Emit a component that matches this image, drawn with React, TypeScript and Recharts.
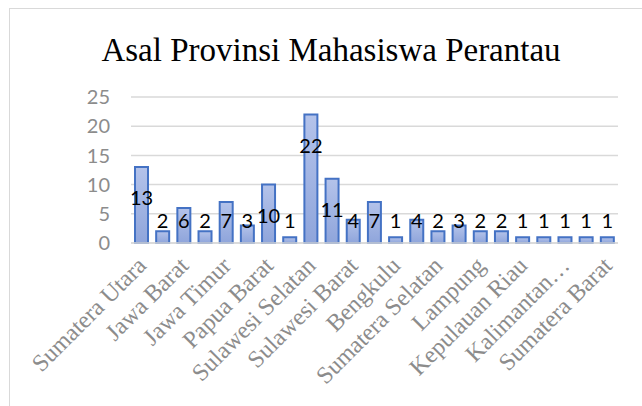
import React from 'react'
import { BarChart, Bar, CartesianGrid, XAxis, YAxis, LabelList } from 'recharts'

// provinsi asal (hanya label genap yang tampil di sumbu)
const provinsi = [
  'Sumatera Utara', 'Jawa Tengah', 'Jawa Barat', 'DKI Jakarta', 'Jawa Timur', 'Bali',
  'Papua Barat', 'Papua', 'Sulawesi Selatan', 'Sulawesi Tengah', 'Sulawesi Barat',
  'Sulawesi Tenggara', 'Bengkulu', 'Jambi', 'Sumatera Selatan', 'Riau', 'Lampung',
  'Banten', 'Kepulauan Riau', 'Kalimantan Barat', 'Kalimantan…', 'Maluku', 'Sumatera Barat',
]
const jumlah = [13, 2, 6, 2, 7, 3, 10, 1, 22, 11, 4, 7, 1, 4, 2, 3, 2, 2, 1, 1, 1, 1, 1]
const yTicks = [0, 5, 10, 15, 20, 25]
const judul = 'Asal Provinsi Mahasiswa Perantau'

const data = provinsi.map((name, i) => ({ name, value: jumlah[i] }))

const serif = "Liberation Serif"

const BarLabel = (props: any) => {
  const { x, y, width, height, value } = props
  const cy = Math.min(y + 30, y + height - 23)
  return (
    <text x={x + width / 2} y={cy} textAnchor="middle" dominantBaseline="central"
      fontFamily="Lato" fontSize={20} fill="#000">
      {value}
    </text>
  )
}

const XTick = (props: any) => {
  const { x, y, payload } = props
  return (
    <g transform={`translate(${x + 6},${y + 16})`}>
      <text x={0} y={0} textAnchor="end" transform="rotate(-45)" fontFamily={serif}
        fontSize={24} fill="#8c8c8c">
        {payload.value}
      </text>
    </g>
  )
}

export default function App() {
  return (
    <div style={{ position: 'absolute', left: 0, top: 0, width: 642, height: 406, background: '#fff', overflow: 'hidden' }}>
      <div style={{ position: 'absolute', left: 9, top: 8, width: 700, height: 500, borderLeft: '1.5px solid #d9d9d9', borderTop: '1.5px solid #d9d9d9' }} />
      <svg width={642} height={80} style={{ position: 'absolute', left: 0, top: 0 }}>
        <text x={331} y={61} textAnchor="middle" fontFamily={serif} fontSize={33} fill="#000">{judul}</text>
      </svg>
      <BarChart width={642} height={406} data={data} margin={{ top: 97, right: 24, bottom: 13, left: 0 }}
        barSize={13} style={{ position: 'absolute', left: 0, top: 0 }}>
        <defs>
          <linearGradient id="isi" x1="0" y1="0" x2="0" y2="1">
            <stop offset="0%" stopColor="#b4c3ea" />
            <stop offset="100%" stopColor="#8fa5db" />
          </linearGradient>
        </defs>
        <CartesianGrid vertical={false} stroke="#d9d9d9" strokeWidth={1.5} />
        <XAxis dataKey="name" interval={1} height={150} tickLine={false} axisLine={{ stroke: '#d9d9d9', strokeWidth: 1.5 }}
          tick={<XTick />} />
        <YAxis domain={[0, 25]} ticks={yTicks} width={131} axisLine={false} tickLine={false} tickSize={0}
          tickMargin={21} tick={{ fontFamily: 'Lato', fontSize: 20, fill: '#8c8c8c' }} />
        <Bar dataKey="value" fill="url(#isi)" stroke="#4472c4" strokeWidth={2} isAnimationActive={false}>
          <LabelList dataKey="value" content={<BarLabel />} />
        </Bar>
      </BarChart>
    </div>
  )
}
